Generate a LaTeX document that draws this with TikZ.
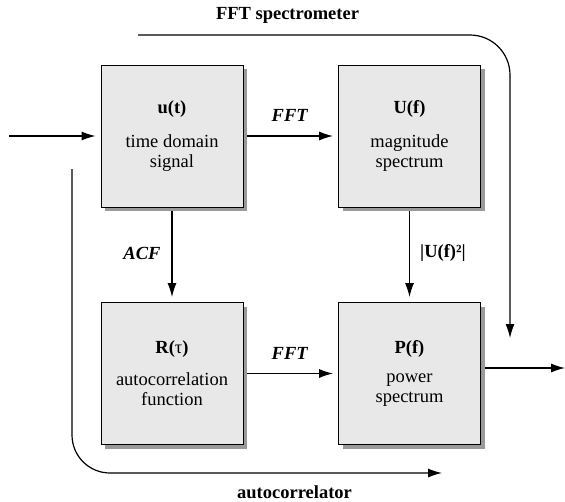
\documentclass[tikz,border=0pt]{standalone}
\usepackage{fontspec}
\setmainfont{Liberation Serif}
\usetikzlibrary{arrows.meta,shadows}
\definecolor{boxgray}{HTML}{E8E8E8}
\definecolor{shadowgray}{HTML}{9A9A9A}
\begin{document}
\begin{tikzpicture}[x=1pt,y=-1pt,
  blk/.style={draw=black, line width=0.8pt, fill=boxgray, minimum width=142pt, minimum height=142pt,
    inner sep=0pt, align=center, font=\rmfamily\fontsize{18.5}{20}\selectfont,
    drop shadow={shadow xshift=4pt, shadow yshift=-4pt, fill=shadowgray, opacity=1}},
  conn/.style={line width=1.2pt, -{Latex[length=14pt,width=9pt]}},
  lbl/.style={font=\rmfamily\fontsize{18.5}{20}\selectfont\bfseries, inner sep=0pt},
]
\useasboundingbox (0,0) rectangle (565,501);

\node[blk] (A) at (172,136) {\textbf{u(t)}\\[14pt]time domain\\signal};
\node[blk] (B) at (409.5,136) {\textbf{U(f)}\\[14pt]magnitude\\spectrum};
\node[blk] (C) at (172,373.5) {\textbf{R(}τ\textbf{)}\\[12pt]autocorrelation\\function};
\node[blk] (D) at (409.5,373.5) {\textbf{P(f)}\\[9pt]power\\spectrum};

\coordinate (in) at (9,136);
\coordinate (out) at (565,368);
\coordinate (s1) at (138,35);
\coordinate (s2) at (510,338);
\coordinate (a1) at (72,169);
\coordinate (a2) at (442,473);

\draw[conn, shorten >=5pt] (in) -- (A.west);
\draw[conn, shorten >=5pt] ([xshift=4pt]A.east) -- (B.west);
\draw[conn, shorten >=5pt] ([yshift=-4pt]A.south) -- (C.north);
\draw[conn, shorten >=5pt] ([yshift=-4pt]B.south) -- (D.north);
\draw[conn, shorten >=5pt] ([xshift=4pt]C.east) -- (D.west);
\draw[conn] ([xshift=4pt,yshift=5.5pt]D.east) -- (out);
\draw[conn, rounded corners=40pt] (s1) -| (s2);
\draw[conn, rounded corners=38pt] (a1) |- (a2);

\node[lbl] (fft1) at (290,115) {\textit{FFT}};
\node[lbl] (fft2) at (290,353) {\textit{FFT}};
\node[lbl] (acf) at (142,253) {\textit{ACF}};
\node[lbl] (mag) at (443,253) {|U(f)²|};
\node[lbl] (spec) at (287.5,15) {FFT spectrometer};
\node[lbl] (auto) at (294.5,492) {autocorrelator};
\end{tikzpicture}
\end{document}
